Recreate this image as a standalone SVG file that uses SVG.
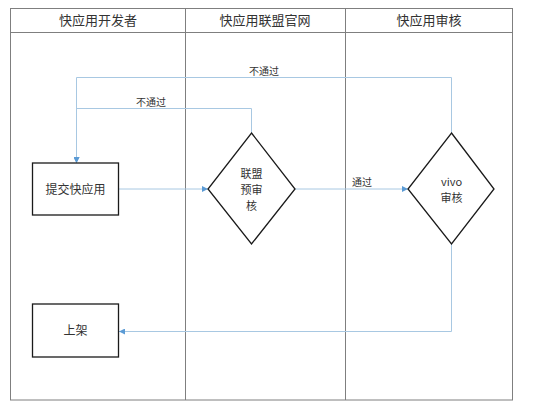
<svg xmlns="http://www.w3.org/2000/svg" width="553" height="409" viewBox="0 0 553 409">
<defs>
<style>
.lane{fill:none;stroke:#7f7f7f;stroke-width:1}
.hd{font-family:"Noto Sans CJK SC","Liberation Sans",sans-serif;font-size:13px;fill:#333;text-anchor:middle}
.node{fill:#fff;stroke:#1a1a1a;stroke-width:1.3}
.t{font-family:"Noto Sans CJK SC","Liberation Sans",sans-serif;font-size:12px;fill:#333;text-anchor:middle}
.td{font-family:"Noto Sans CJK SC","Liberation Sans",sans-serif;font-size:11px;fill:#333;text-anchor:middle}
.lbl{font-family:"Noto Sans CJK SC","Liberation Sans",sans-serif;font-size:10px;fill:#333;text-anchor:middle}
.c{fill:none;stroke:#a8c8e2;stroke-width:1}
</style>
<marker id="ar" viewBox="0 0 6 6" refX="6" refY="3" markerWidth="6" markerHeight="6" markerUnits="userSpaceOnUse" orient="auto">
<path d="M0,0 L6,3 L0,6 z" fill="#5b9bd5"/>
</marker>
</defs>
<rect width="553" height="409" fill="#fff"/>
<g id="lanes">
<rect class="lane" x="10.5" y="8.5" width="502" height="391.5"/>
<line class="lane" x1="10.5" y1="32.5" x2="512.5" y2="32.5"/>
<line class="lane" x1="185.5" y1="8.5" x2="185.5" y2="400"/>
<line class="lane" x1="345.5" y1="8.5" x2="345.5" y2="400"/>
<text class="hd" x="98" y="25">快应用开发者</text>
<text class="hd" x="265" y="25">快应用联盟官网</text>
<text class="hd" x="429" y="25">快应用审核</text>
</g>
<g id="connectors">
<path class="c" d="M118,189 H208" marker-end="url(#ar)"/>
<path class="c" d="M295,189 H408" marker-end="url(#ar)"/>
<text class="lbl" x="362" y="186">通过</text>
<path class="c" d="M251.5,133 V108.5 H76.5 V163" marker-end="url(#ar)"/>
<text class="lbl" x="151" y="106">不通过</text>
<path class="c" d="M451.5,133 V77.5 H76.5 V163" marker-end="url(#ar)"/>
<text class="lbl" x="264" y="75">不通过</text>
<path class="c" d="M451.5,244 V331.5 H119" marker-end="url(#ar)"/>
</g>
<g id="submit">
<rect class="node" x="32.5" y="163" width="86" height="52"/>
<text class="t" x="75.5" y="193.5">提交快应用</text>
</g>
<g id="prereview">
<polygon class="node" points="251.5,133 295,189 251.5,244 208,189"/>
<text class="td" x="251.5" y="178"><tspan x="251.5">联盟</tspan><tspan x="251.5" dy="16">预审</tspan><tspan x="251.5" dy="16">核</tspan></text>
</g>
<g id="vivoreview">
<polygon class="node" points="451.5,133 494,189 451.5,244 408,189"/>
<text class="td" x="451.5" y="186"><tspan x="451.5">vivo</tspan><tspan x="451.5" dy="16">审核</tspan></text>
</g>
<g id="publish">
<rect class="node" x="32.5" y="304" width="86" height="53"/>
<text class="t" x="75.5" y="335">上架</text>
</g>
</svg>
